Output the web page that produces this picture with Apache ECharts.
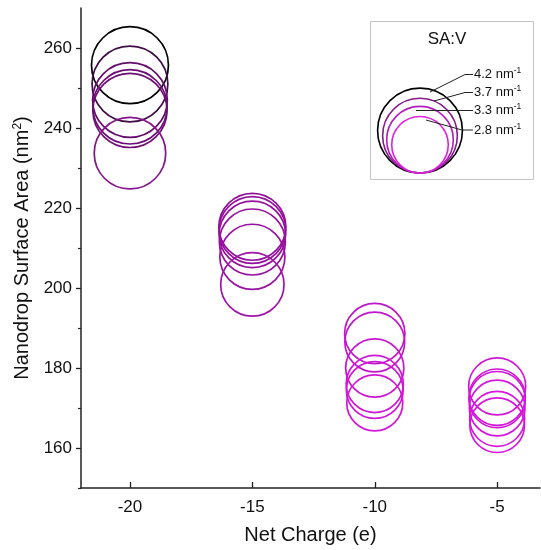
<!DOCTYPE html>
<html>
<head>
<meta charset="utf-8">
<script src="https://cdn.jsdelivr.net/npm/echarts@6/dist/echarts.min.js"></script>
<style>
html,body{margin:0;padding:0;background:#fff;}
#chart{width:541px;height:550px;}
</style>
</head>
<body>
<div id="chart"></div>
<script>
// ---- data ----
const netCharge = [-20, -15, -10, -5];
const surfaceAreaAtMinus20 = [255.7, 251.0, 247.0, 245.3, 244.4, 233.7];
const surfaceAreaAtMinus15 = [215.3, 214.5, 213.4, 211.5, 207.8, 200.9];
const surfaceAreaAtMinus10 = [188.6, 186.5, 180.0, 176.0, 174.5, 171.3];
const surfaceAreaAtMinus5  = [175.4, 172.7, 172.1, 170.0, 167.3, 165.7];
const xTickLabels = [-20, -15, -10, -5];
const yTickLabels = [160, 180, 200, 220, 240, 260];
const yMinorTicks = [150, 170, 190, 210, 230, 250];
const legendSAV = [4.2, 3.7, 3.3, 2.8];
const legendColors = ['#000000', '#851a8d', '#b01fb8', '#e020e0'];

const groups = [surfaceAreaAtMinus20, surfaceAreaAtMinus15, surfaceAreaAtMinus10, surfaceAreaAtMinus5];

// ---- styling helpers ----
function diam(v) { return 55.7 + (v - 170) * 0.248; }
const colorStops = [
  [165, [216, 24, 220]],
  [175, [208, 22, 214]],
  [188, [192, 22, 200]],
  [201, [160, 20, 168]],
  [215, [148, 16, 156]],
  [234, [132, 20, 140]],
  [244, [114, 14, 122]],
  [247, [100, 12, 108]],
  [251, [62, 14, 68]],
  [256, [0, 0, 0]]
];
function colorFor(v) {
  if (v <= colorStops[0][0]) return 'rgb(' + colorStops[0][1].join(',') + ')';
  for (let i = 1; i < colorStops.length; i++) {
    if (v <= colorStops[i][0]) {
      const a = colorStops[i - 1], b = colorStops[i];
      const t = (v - a[0]) / (b[0] - a[0]);
      const c = a[1].map((x, k) => Math.round(x + (b[1][k] - x) * t));
      return 'rgb(' + c.join(',') + ')';
    }
  }
  return 'rgb(0,0,0)';
}

const FONT = '"Liberation Sans", Arial, Helvetica, sans-serif';
const chart = echarts.init(document.getElementById('chart'), null, {renderer: 'canvas'});

const series = groups.map((vals, gi) => ({
  type: 'scatter',
  symbol: 'circle',
  symbolSize: function (val) { return diam(val[1]); },
  silent: true,
  itemStyle: {opacity: 1},
  data: vals.map(v => ({
    value: [netCharge[gi], v],
    itemStyle: {color: 'rgba(0,0,0,0)', borderColor: colorFor(v), borderWidth: 1.7, opacity: 1}
  }))
}));

// legend graphic
const lgCx = 420, lgBottom = 173, lgScale = 10.1;
const labelYs = [74.5, 92.5, 110.5, 130];
const leaderPts = [
  [[430, 92], [465, 74.5], [473, 74.5]],
  [[434, 101], [465, 92.5], [473, 92.5]],
  [[416, 110.5], [473, 110.5]],
  [[426, 120], [462, 130], [473, 130]]
];
const graphics = [
  {type: 'rect', shape: {x: 370.5, y: 21.5, width: 163, height: 158}, style: {fill: '#fff', stroke: '#c4c4c4', lineWidth: 1}, z: 10},
  {type: 'text', x: 447, y: 39, style: {text: 'SA:V', font: '17px ' + FONT, fill: '#111', align: 'center', verticalAlign: 'middle'}, z: 11}
];
legendSAV.forEach((s, i) => {
  const r = s * lgScale;
  graphics.push({type: 'circle', shape: {cx: lgCx, cy: lgBottom - r, r: r}, style: {fill: 'none', stroke: legendColors[i], lineWidth: 1.6}, z: 11});
});
legendSAV.forEach((s, i) => {
  graphics.push({type: 'polyline', shape: {points: leaderPts[i]}, style: {fill: 'none', stroke: '#222', lineWidth: 1}, z: 12});
  graphics.push({
    type: 'text', x: 474, y: labelYs[i],
    style: {
      text: s.toFixed(1) + ' nm{sup|-1}',
      font: '13px ' + FONT, fill: '#111', verticalAlign: 'middle', align: 'left',
      rich: {sup: {fontSize: 8.5, fontFamily: FONT, verticalAlign: 'top', lineHeight: 16, fill: '#111'}}
    }, z: 12
  });
});

const option = {
  animation: false,
  backgroundColor: '#fff',
  grid: {left: 81, right: 1, top: 8, bottom: 61, containLabel: false},
  xAxis: {
    type: 'value', min: -22, max: -3.25,
    name: 'Net Charge (e)', nameLocation: 'middle', nameGap: 37,
    nameTextStyle: {fontSize: 20, color: '#111', fontFamily: FONT},
    axisLine: {show: true, onZero: false, lineStyle: {color: '#222', width: 1.5}},
    axisTick: {show: true, inside: true, length: 6, customValues: xTickLabels, lineStyle: {color: '#222', width: 1.3}},
    axisLabel: {customValues: xTickLabels, margin: 11, fontSize: 17, color: '#111', fontFamily: FONT},
    splitLine: {show: false}
  },
  yAxis: [{
    type: 'value', min: 150, max: 270,
    name: 'Nanodrop Surface Area (nm{sup|2})', nameLocation: 'middle', nameGap: 40, nameRotate: 90,
    nameTextStyle: {fontSize: 20, color: '#111', fontFamily: FONT, rich: {sup: {fontSize: 12, verticalAlign: 'top', lineHeight: 22}}},
    axisLine: {show: true, onZero: false, lineStyle: {color: '#222', width: 1.5}},
    axisTick: {show: true, inside: false, length: 5, customValues: yTickLabels, lineStyle: {color: '#222', width: 1.3}},
    axisLabel: {customValues: yTickLabels, margin: 9, fontSize: 17, color: '#111', fontFamily: FONT},
    splitLine: {show: false}
  }, {
    type: 'value', min: 150, max: 270, position: 'left',
    axisLine: {show: false},
    axisTick: {show: true, inside: false, length: 3, customValues: yMinorTicks, lineStyle: {color: '#222', width: 1.2}},
    axisLabel: {show: false},
    splitLine: {show: false}
  }],
  graphic: graphics,
  series: series
};
chart.setOption(option);
</script>
</body>
</html>
